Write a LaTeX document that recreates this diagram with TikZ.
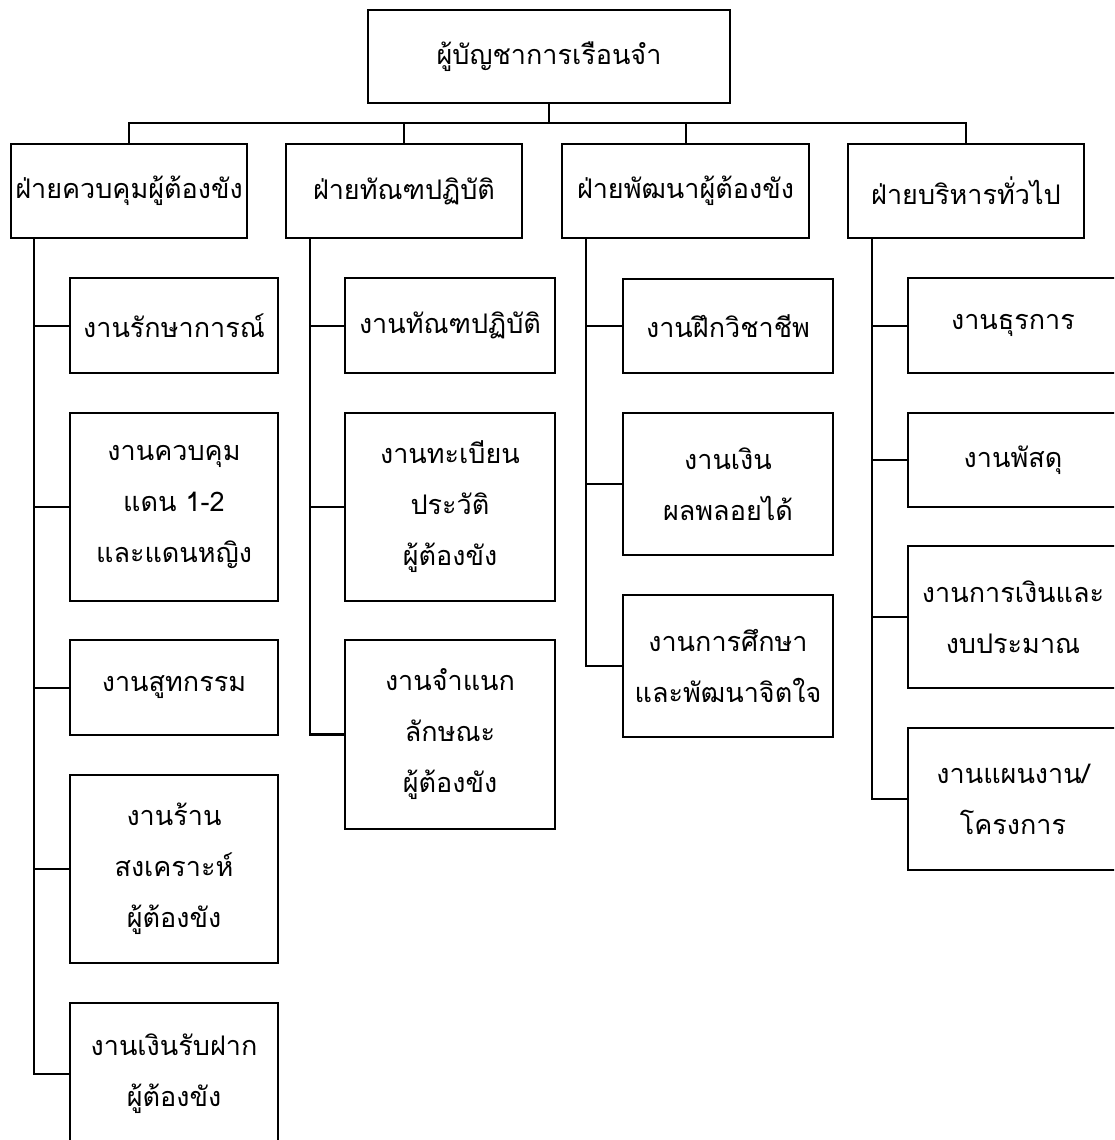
\documentclass[tikz,border=0pt]{standalone}
\usepackage{fontspec}
\newfontfamily\thaifont[Script=Thai]{Loma}
\begin{document}
\begin{tikzpicture}[x=1pt,y=-1pt,
  box/.style={draw, line width=2pt, inner sep=0pt, align=center, text=black,
    font=\thaifont\fontsize{27}{51}\selectfont},
  conn/.style={line width=2pt},
  trunk/.style={line width=2.6pt}]
\useasboundingbox (0,0) rectangle (1114,1140);
\clip (0,0) rectangle (1114,1140);
\fill[white] (0,0) rectangle (1114,1140);
% top
\node[box, minimum width=362pt, minimum height=93pt] (top) at (549,56.5) {ผู้บัญชาการเรือนจำ};
% level 1
\node[box, minimum width=236pt, minimum height=94pt] (la) at (129,191) {ฝ่ายควบคุมผู้ต้องขัง};
\node[box, minimum width=236pt, minimum height=94pt] (lb) at (404,191) {ฝ่ายทัณฑปฏิบัติ};
\node[box, minimum width=247pt, minimum height=94pt] (lc) at (685.5,191) {ฝ่ายพัฒนาผู้ต้องขัง};
\node[box, minimum width=236pt, minimum height=94pt] (ld) at (966,191) {ฝ่ายบริหารทั่วไป};
% column 1
\node[box, minimum width=208pt, minimum height=95pt] (a1) at (174,325.5) {งานรักษาการณ์};
\node[box, minimum width=208pt, minimum height=188pt] (a2) at (174,507) {งานควบคุม\\แดน 1-2\\และแดนหญิง};
\node[box, minimum width=208pt, minimum height=95pt] (a3) at (174,687.5) {งานสูทกรรม};
\node[box, minimum width=208pt, minimum height=188pt] (a4) at (174,869) {งานร้าน\\สงเคราะห์\\ผู้ต้องขัง};
\node[box, minimum width=208pt, minimum height=142pt] (a5) at (174,1074) {งานเงินรับฝาก\\ผู้ต้องขัง};
% column 2
\node[box, minimum width=210pt, minimum height=95pt] (b1) at (450,325.5) {งานทัณฑปฏิบัติ};
\node[box, minimum width=210pt, minimum height=188pt] (b2) at (450,507) {งานทะเบียน\\ประวัติ\\ผู้ต้องขัง};
\node[box, minimum width=210pt, minimum height=189pt] (b3) at (450,734.5) {งานจำแนก\\ลักษณะ\\ผู้ต้องขัง};
% column 3
\node[box, minimum width=210pt, minimum height=94pt] (c1) at (728,326) {งานฝึกวิชาชีพ};
\node[box, minimum width=210pt, minimum height=142pt] (c2) at (728,484) {งานเงิน\\ผลพลอยได้};
\node[box, minimum width=210pt, minimum height=142pt] (c3) at (728,666) {งานการศึกษา\\และพัฒนาจิตใจ};
% column 4
\node[box, minimum width=210pt, minimum height=95pt] (d1) at (1013,325.5) {งานธุรการ};
\node[box, minimum width=210pt, minimum height=94pt] (d2) at (1013,460) {งานพัสดุ};
\node[box, minimum width=210pt, minimum height=142pt] (d3) at (1013,617) {งานการเงินและ\\งบประมาณ};
\node[box, minimum width=210pt, minimum height=142pt] (d4) at (1013,799) {งานแผนงาน/\\โครงการ};
% bus
\coordinate (bus) at (0,123);
\draw[trunk] (top.south) -- (top.south |- bus);
\draw[conn] (la.north) -- (la.north |- bus) -- (ld.north |- bus) -- (ld.north);
\draw[conn] (lb.north) -- (lb.north |- bus);
\draw[conn] (lc.north) -- (lc.north |- bus);
% trunks
\coordinate (t1) at (34,0);
\coordinate (t2) at (310,0);
\coordinate (t3) at (586,0);
\coordinate (t4) at (872,0);
\draw[trunk] (t1 |- la.south) -- (t1 |- a5.west) -- (a5.west);
\draw[conn] (t1 |- a1.west) -- (a1.west);
\draw[conn] (t1 |- a2.west) -- (a2.west);
\draw[conn] (t1 |- a3.west) -- (a3.west);
\draw[conn] (t1 |- a4.west) -- (a4.west);
\draw[trunk] (t2 |- lb.south) -- (t2 |- b3.west) -- (b3.west);
\draw[conn] (t2 |- b1.west) -- (b1.west);
\draw[conn] (t2 |- b2.west) -- (b2.west);
\draw[trunk] (t3 |- lc.south) -- (t3 |- c3.west) -- (c3.west);
\draw[conn] (t3 |- c1.west) -- (c1.west);
\draw[conn] (t3 |- c2.west) -- (c2.west);
\draw[trunk] (t4 |- ld.south) -- (t4 |- d4.west) -- (d4.west);
\draw[conn] (t4 |- d1.west) -- (d1.west);
\draw[conn] (t4 |- d2.west) -- (d2.west);
\draw[conn] (t4 |- d3.west) -- (d3.west);
\end{tikzpicture}
\end{document}
